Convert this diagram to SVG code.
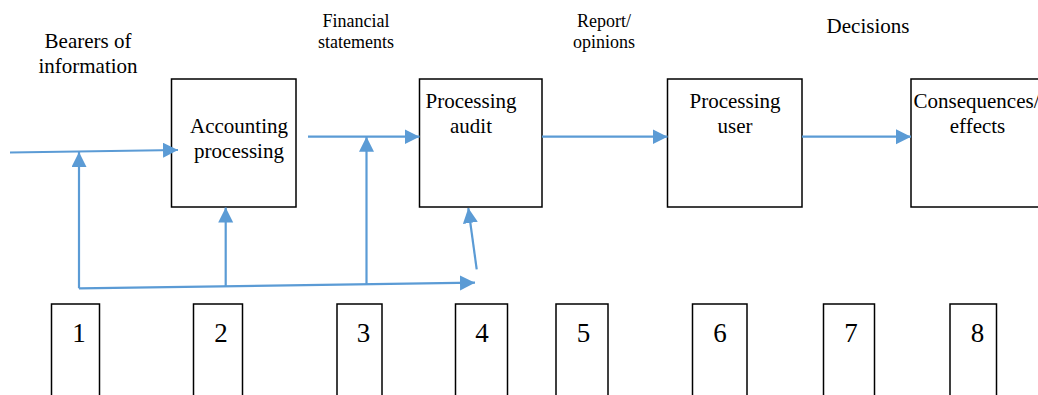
<svg xmlns="http://www.w3.org/2000/svg" width="1038" height="395" viewBox="0 0 1038 395">
  <style>
    .box { fill: #ffffff; stroke: #000000; stroke-width: 1.5; }
    .lbl { fill: #000000; text-anchor: middle; }
    .big { font-size: 21px; }
    .small { font-size: 18px; }
    .num { font-size: 27px; }
    .flow { fill: none; stroke: #5B9BD5; stroke-width: 2.2; }
    .head { stroke: none; fill: #5B9BD5; }
  </style>
  <defs>
    <marker id="arrow" markerUnits="userSpaceOnUse" markerWidth="16" markerHeight="16" refX="15" refY="7.5" orient="auto">
      <path class="head" d="M0,0 L15,7.5 L0,15 Z"/>
    </marker>
  </defs>

  <rect width="1038" height="395" fill="#ffffff"/>

  <g font-family="'Liberation Serif', 'Times New Roman', 'DejaVu Serif', serif">
  <!-- headings above the flow -->
  <g id="labels">
    <text class="lbl big" x="88" y="48">Bearers of</text>
    <text class="lbl big" x="88" y="73">information</text>
    <text class="lbl small" x="356" y="27">Financial</text>
    <text class="lbl small" x="356" y="48">statements</text>
    <text class="lbl small" x="604" y="27">Report/</text>
    <text class="lbl small" x="604" y="48">opinions</text>
    <text class="lbl big" x="868" y="33">Decisions</text>
  </g>

  <!-- process stages -->
  <g id="accounting">
    <rect class="box" x="171.5" y="79" width="124.5" height="128"/>
    <text class="lbl big" x="239" y="133">Accounting</text>
    <text class="lbl big" x="239" y="158">processing</text>
  </g>
  <g id="audit">
    <rect class="box" x="419.5" y="79" width="122.5" height="128"/>
    <text class="lbl big" x="471" y="108">Processing</text>
    <text class="lbl big" x="471" y="133">audit</text>
  </g>
  <g id="user">
    <rect class="box" x="667.5" y="79" width="134.5" height="128"/>
    <text class="lbl big" x="735" y="108">Processing</text>
    <text class="lbl big" x="735" y="133">user</text>
  </g>
  <g id="consequences">
    <rect class="box" x="911" y="79" width="140" height="128"/>
    <text class="lbl big" x="976.5" y="108">Consequences/</text>
    <text class="lbl big" x="977.5" y="133">effects</text>
  </g>

  <!-- numbered columns along the bottom -->
  <g id="col1"><rect class="box" x="51.5" y="304" width="48" height="100"/><text class="lbl num" x="79" y="342">1</text></g>
  <g id="col2"><rect class="box" x="193.5" y="304" width="49" height="100"/><text class="lbl num" x="221" y="342">2</text></g>
  <g id="col3"><rect class="box" x="337" y="304" width="45" height="100"/><text class="lbl num" x="363.5" y="342">3</text></g>
  <g id="col4"><rect class="box" x="455.5" y="304" width="52" height="100"/><text class="lbl num" x="482" y="342">4</text></g>
  <g id="col5"><rect class="box" x="556" y="304" width="52" height="100"/><text class="lbl num" x="583.5" y="342">5</text></g>
  <g id="col6"><rect class="box" x="692.5" y="304" width="54.5" height="100"/><text class="lbl num" x="720" y="342">6</text></g>
  <g id="col7"><rect class="box" x="823.5" y="304" width="51" height="100"/><text class="lbl num" x="851" y="342">7</text></g>
  <g id="col8"><rect class="box" x="950" y="304" width="46.5" height="100"/><text class="lbl num" x="977.5" y="342">8</text></g>
  </g>

  <!-- connectors -->
  <g id="connectors">
    <line class="flow" x1="10" y1="152.5" x2="178" y2="150" marker-end="url(#arrow)"/>
    <line class="flow" x1="308" y1="136.7" x2="419.5" y2="136.7" marker-end="url(#arrow)"/>
    <line class="flow" x1="542" y1="136.7" x2="667.5" y2="136.7" marker-end="url(#arrow)"/>
    <line class="flow" x1="802" y1="136.7" x2="911" y2="136.7" marker-end="url(#arrow)"/>

    <line class="flow" x1="79" y1="288.3" x2="475" y2="282.7" marker-end="url(#arrow)"/>
    <line class="flow" x1="79" y1="288.3" x2="79" y2="152" marker-end="url(#arrow)"/>
    <line class="flow" x1="225.7" y1="286.7" x2="225.7" y2="207.5" marker-end="url(#arrow)"/>
    <line class="flow" x1="366.5" y1="284" x2="366.5" y2="136.7" marker-end="url(#arrow)"/>
    <line class="flow" x1="476.7" y1="269.3" x2="468.3" y2="208" marker-end="url(#arrow)"/>
  </g>
</svg>
